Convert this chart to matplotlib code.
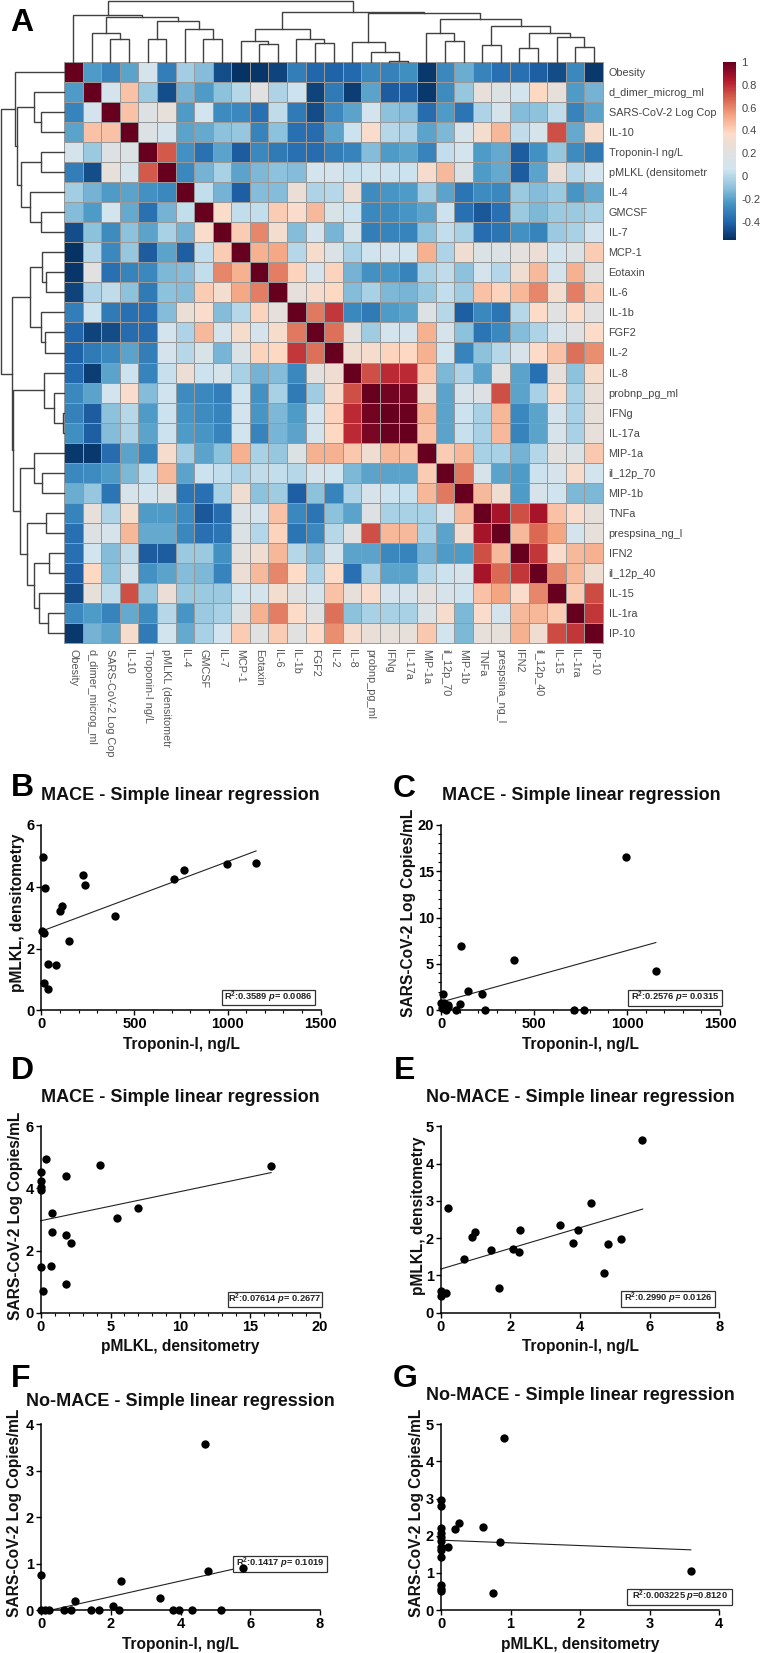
import numpy as np
import matplotlib
matplotlib.use("Agg")
import matplotlib.pyplot as plt
from matplotlib.colors import LinearSegmentedColormap
from matplotlib.patches import Rectangle
from matplotlib.ticker import MultipleLocator

plt.rcParams['font.family'] = ['Liberation Sans', 'DejaVu Sans']
plt.rcParams['mathtext.fontset'] = 'custom'
plt.rcParams['mathtext.bf'] = 'Liberation Sans:bold'
plt.rcParams['mathtext.it'] = 'Liberation Sans:italic:bold'
plt.rcParams['mathtext.rm'] = 'Liberation Sans:bold'

W, H = 760, 1653

labels = ["Obesity", "d_dimer_microg_ml", "SARS-CoV-2 Log Cop", "IL-10", "Troponin-I ng/L",
          "pMLKL (densitometr", "IL-4", "GMCSF", "IL-7", "MCP-1", "Eotaxin", "IL-6", "IL-1b",
          "FGF2", "IL-2", "IL-8", "probnp_pg_ml", "IFNg", "IL-17a", "MIP-1a", "il_12p_70",
          "MIP-1b", "TNFa", "prespsina_ng_l", "IFN2", "il_12p_40", "IL-15", "IL-1ra", "IP-10"]

# upper triangle of the correlation matrix
upper = [
    [1, -.22, -.3, -.2, .1, -.32, -.05, -.12, -.47, -.55, -.54, -.5, -.32, -.4, -.41, -.39, -.28, -.31, -.26, -.53, -.28, -.17, -.3, -.37, -.37, -.42, -.48, -.28, -.53],
    [1, .1, .45, -.07, -.47, -.15, -.22, -.1, 0, .2, -.02, .05, -.5, -.33, -.52, -.2, -.43, -.42, -.53, -.27, -.08, .25, .17, .07, .38, .25, -.22, -.15],
    [1, .45, .18, .25, -.22, .07, -.27, -.28, -.37, .02, -.33, -.48, -.28, -.2, .08, -.1, -.12, -.38, -.22, -.35, -.02, .12, -.12, -.1, .02, -.3, -.2],
    [1, .17, .1, -.2, -.18, -.1, -.08, -.3, -.1, -.37, -.38, -.2, .05, .35, 0, -.02, -.2, -.13, .12, .32, .48, .02, .12, .72, -.18, .33],
    [1, .7, -.25, -.36, -.2, -.43, -.28, -.33, -.37, -.38, -.32, -.3, -.12, -.22, -.2, -.3, .03, .08, -.22, -.18, -.43, -.25, -.08, -.27, -.33],
    [1, -.28, -.15, -.03, -.2, -.13, -.1, -.12, .08, .1, .04, .06, .05, .05, .33, .47, .17, -.22, -.18, -.43, -.2, .27, 0, .07],
    [1, .03, -.15, -.42, -.12, -.12, .27, -.02, 0, .28, -.27, -.24, -.22, -.05, -.2, -.35, -.27, -.28, -.07, -.12, -.07, -.24, -.18],
    [1, .36, .03, .03, .42, .35, .47, .13, .05, -.28, -.27, -.24, -.2, .05, -.37, -.44, -.37, -.07, -.13, -.07, -.07, -.03],
    [1, .42, .6, .32, -.12, .1, -.14, .12, -.32, -.3, -.3, -.1, .03, -.03, -.38, -.35, -.25, -.3, -.07, -.03, .08],
    [1, .5, .52, 0, .33, .15, -.03, .06, .08, .07, .5, -.02, .3, .15, .15, .23, .28, .07, .17, .42],
    [1, .62, .4, .12, .4, -.15, -.25, -.24, -.3, -.03, .02, -.1, .1, -.01, .3, .47, .1, .5, .2],
    [1, .24, .33, .38, -.12, -.03, -.13, -.14, -.08, .03, -.06, .45, .4, .48, .6, .32, .62, .42],
    [1, .63, .77, -.28, -.33, -.22, -.2, .17, 0, -.42, -.28, -.35, 0, .37, .2, .37, .2],
    [1, .65, .22, -.06, .08, .1, .5, .12, -.1, -.35, -.28, -.12, -.02, .12, .2, .37],
    [1, .3, .33, .4, .38, .5, .07, -.3, -.1, 0, .12, .37, .45, .65, .58],
    [1, .72, .8, .8, .43, -.13, -.02, -.2, .2, -.2, -.37, .25, -.1, .33],
    [1, .97, .96, .3, -.2, .12, .18, .72, -.2, -.03, .35, -.03, .26],
    [1, .99, .48, -.2, .05, -.03, .48, -.28, -.2, .1, -.03, .25],
    [1, .45, -.2, .04, -.03, .47, -.3, -.2, .12, -.03, .25],
    [1, .42, .48, -.03, -.03, -.15, -.01, .23, .15, .43],
    [1, .63, .12, -.2, -.22, .05, .12, .33, .07],
    [1, .47, .3, -.22, .12, .06, -.13, -.13],
    [1, .87, .72, .87, .45, .35, .25],
    [1, .47, .67, .53, .1, .25],
    [1, .78, .35, .47, .5],
    [1, .6, .48, .3],
    [1, .42, .73],
    [1, .78],
    [1],
]

# dendrogram merges: (height, left, right)
tree = (61,
        (47, 0,
         (45.3,
          (29.3, 1, (22.7, 2, 3)),
          (41.3, (22.7, 4, 5), (32.7, 6, (22.7, 7, 8))))),
        (50.3,
         (33, (21, 9, (17.7, 10, 11)), (22.7, 12, (18.7, 13, 14))),
         (49.3,
          (19.7, 15, (9.7, 16, (1, 17, 18))),
          (42.7,
           (29.3, 19, (21.3, 20, 21)),
           (36,
            (17, 22, 23),
            (28.7, (14.3, 24, 25), (24.7, 26, (15.3, 27, 28))))))))

cbar_ticks = [1, .8, .6, .4, .2, 0, -.2, -.4]
cbar_ticklabels = ["1", "0.8", "0.6", "0.4", "0.2", "0", "-0.2", "-0.4"]

b_x = [7, 21, 5, 16, 147, 38, 80, 16, 34, 102, 111, 224, 233, 394, 714, 768, 995, 1153]
b_y = [4.96, 3.95, 2.58, 2.51, 2.24, 1.51, 1.46, .9, .7, 3.23, 3.37, 4.39, 4.06, 3.04, 4.24, 4.54, 4.74, 4.78]
b_line = ([5, 1153], [2.57, 5.16])

c_x = [996, 1154, 109, 394, 145, 222, 13, 102, 81, 235, 715, 769, 0, 36, 13, 25, 4, 16, 40]
c_y = [16.5, 4.24, 6.93, 5.42, 2.12, 1.72, 1.76, .72, 0, 0, 0, 0, .75, .6, .2, .05, .2, .75, .4]
c_line = ([2, 1155], [.9, 7.3])

d_x = [.36, .02, .02, .02, .02, 1.81, 4.27, 16.5, 7, 5.44, .81, .79, 1.84, 2.2, .72, .02, 1.84, .14]
d_y = [4.96, 4.54, 4.24, 4.06, 3.95, 4.39, 4.77, 4.72, 3.36, 3.04, 3.22, 2.59, 2.51, 2.24, 1.51, 1.46, .91, .71]
d_line = ([0, 16.5], [2.96, 4.51])

e_x = [5.78, 4.33, .22, 3.42, 3.94, 2.27, .99, .89, 3.8, 4.79, 5.18, 1.44, 2.07, 2.24, .66, 4.7, 1.66, 0, 0, .14, .04]
e_y = [4.63, 2.94, 2.82, 2.35, 2.22, 2.22, 2.17, 2.04, 1.87, 1.83, 1.97, 1.68, 1.7, 1.62, 1.44, 1.06, .67, .58, .46, .52, .52]
e_line = ([0, 5.8], [1.17, 2.78])

f_x = [4.7, 4.8, 5.78, 0, 2.28, .98, 3.4, 2.06, 0, .11, .22, .65, .87, 1.43, 1.65, 2.23, 3.79, 3.95, 4.32, 5.17]
f_y = [3.58, .85, .91, .75, .62, .2, .26, .09, 0, 0, 0, 0, 0, 0, 0, 0, 0, 0, 0, 0]
f_line = ([.26, 5.78], [0, .93])

g_x = [.91, 0, 0, .26, .61, .2, 0, .85, 0, 0, 0, .1, 0, 0, 0, 3.59, .75, 0, 0, 0]
g_y = [4.64, 2.96, 2.81, 2.35, 2.23, 2.17, 2.22, 1.82, 2.06, 1.97, 1.87, 1.7, 1.69, 1.62, 1.44, 1.06, .47, .66, .57, .51]
g_line = ([0, 3.59], [1.88, 1.62])

n = len(labels)
matrix = np.zeros((n, n))
for i, row in enumerate(upper):
    matrix[i, i:] = row
    matrix[i:, i] = row

cmap = LinearSegmentedColormap.from_list("rb", ["#053061", "#2166ac", "#4393c3", "#92c5de", "#d1e5f0",
                                                "#e2e0de", "#fddbc7", "#f4a582", "#d6604d", "#b2182b", "#67001f"])
vmin, vmax = -.56, 1

fig = plt.figure(figsize=(W / 100, H / 100), dpi=100)


def px_axes(left, top, right, bottom):
    return fig.add_axes([left / W, 1 - bottom / H, (right - left) / W, (bottom - top) / H])


def ftext(x, y, s, **kw):
    kw.setdefault('ha', 'center')
    kw.setdefault('va', 'center')
    fig.text(x / W, 1 - y / H, s, **kw)


# heatmap
hl, ht, hr, hb = 64, 62, 603, 643
ax = px_axes(hl, ht, hr, hb)
mesh = ax.pcolormesh(matrix, cmap=cmap, vmin=vmin, vmax=vmax, edgecolors='#999999', linewidth=0.65)
ax.set_xlim(0, n)
ax.set_ylim(n, 0)
ax.set_xticks(np.arange(n) + .5)
ax.set_xticklabels(labels, rotation=-90, fontsize=7.8, color='#555555')
ax.set_yticks(np.arange(n) + .5)
ax.set_yticklabels(labels, fontsize=7.8, color='#444444')
ax.yaxis.tick_right()
ax.tick_params(length=0, pad=4)
for s in ax.spines.values():
    s.set_color('#999999')
    s.set_linewidth(0.7)


# dendrograms
def draw_tree(node, axis, vertical):
    if not isinstance(node, tuple):
        return node + .5, 0
    h, left, right = node
    p1, h1 = draw_tree(left, axis, vertical)
    p2, h2 = draw_tree(right, axis, vertical)
    pos = [p1, p1, p2, p2]
    hs = [h1, h, h, h2]
    if vertical:
        axis.plot(pos, hs, color='#404040', lw=1.0, solid_joinstyle='miter', clip_on=False)
    else:
        axis.plot(hs, pos, color='#404040', lw=1.0, solid_joinstyle='miter', clip_on=False)
    return (p1 + p2) / 2, h


dtop = px_axes(hl, 0, hr, ht)
draw_tree(tree, dtop, True)
dtop.set_xlim(0, n)
dtop.set_ylim(0, ht)
dtop.axis('off')

dleft = px_axes(0, ht, hl, hb)
draw_tree(tree, dleft, False)
dleft.set_xlim(hl - 2, 0)
dleft.set_ylim(n, 0)
dleft.axis('off')

# colour bar
cax = px_axes(723, 62, 736, 240)
cb = fig.colorbar(mesh, cax=cax)
cb.set_ticks(cbar_ticks)
cb.set_ticklabels(cbar_ticklabels)
cb.ax.tick_params(length=0, labelsize=8, labelcolor='#444444', pad=4)
cb.outline.set_visible(False)


def panel(box, xlim, ylim, xmajor, ymajor, xminor, yminor, x, y, line, note, note_box):
    a = px_axes(*box)
    a.set_xlim(*xlim)
    a.set_ylim(*ylim)
    a.spines['top'].set_visible(False)
    a.spines['right'].set_visible(False)
    a.spines['left'].set_linewidth(1.1)
    a.spines['bottom'].set_linewidth(1.1)
    a.xaxis.set_major_locator(MultipleLocator(xmajor))
    a.yaxis.set_major_locator(MultipleLocator(ymajor))
    if xminor:
        a.xaxis.set_minor_locator(MultipleLocator(xminor))
    if yminor:
        a.yaxis.set_minor_locator(MultipleLocator(yminor))
    a.tick_params(which='major', length=3.5, width=1.0, labelsize=10.5, pad=1.5)
    a.tick_params(which='minor', length=2, width=0.8)
    for t in a.get_xticklabels() + a.get_yticklabels():
        t.set_fontweight('bold')
    a.plot(line[0], line[1], color='#222222', lw=0.8, clip_on=False, zorder=2)
    # stats box is given in pixels of the figure
    l, t, r, b = note_box
    bw, bh = box[2] - box[0], box[3] - box[1]
    a.add_patch(Rectangle(((l - box[0]) / bw, (box[3] - b) / bh), (r - l) / bw, (b - t) / bh,
                          transform=a.transAxes, fc='white', ec='#333333', lw=0.9, clip_on=False, zorder=3))
    a.scatter(x, y, s=36, color='black', clip_on=False, zorder=4, linewidths=0)
    a.text(((l + r) / 2 - box[0]) / bw, (box[3] - (t + b) / 2) / bh, note, transform=a.transAxes,
           ha='center', va='center', fontsize=6.7, fontweight='bold', color='#222222', zorder=5)
    return a


panel((41.3, 825, 320.7, 1010.3), (0, 1500), (0, 6), 500, 2, 100, None, b_x, b_y, b_line,
      r"$\mathbf{R^2}$:0.3589 $\mathit{p}$= 0.0086", (221.7, 989.5, 315.3, 1005))
panel((441, 824.7, 720, 1010.3), (0, 1500), (0, 20), 500, 5, 100, 1, c_x, c_y, c_line,
      r"$\mathbf{R^2}$:0.2576 $\mathit{p}$= 0.0315", (627.7, 989.5, 722.3, 1005.7))
panel((40.7, 1126.3, 320, 1312.7), (0, 20), (0, 6), 5, 2, 1, None, d_x, d_y, d_line,
      r"$\mathbf{R^2}$:0.07614 $\mathit{p}$= 0.2677", (227.7, 1291.7, 322.3, 1307.3))
panel((440.7, 1126.3, 719.3, 1312.7), (0, 8), (0, 5), 2, 1, None, None, e_x, e_y, e_line,
      r"$\mathbf{R^2}$:0.2990 $\mathit{p}$= 0.0126", (620.7, 1290.7, 715, 1306.7))
panel((41, 1424.3, 320, 1610.3), (0, 8), (0, 4), 2, 1, None, None, f_x, f_y, f_line,
      r"$\mathbf{R^2}$:0.1417 $\mathit{p}$= 0.1019", (232.7, 1556, 327, 1571.7))
panel((441, 1424.3, 719.3, 1610), (0, 4), (0, 5), 1, 1, None, None, g_x, g_y, g_line,
      r"$\mathbf{R^2}$:0.003225 $\mathit{p}$=0.8120", (627.3, 1588.7, 732.3, 1605))

# titles, axis names and panel letters
title_kw = dict(fontsize=13, fontweight='bold', color='#111111')
ftext(180.5, 796, "MACE - Simple linear regression", **title_kw)
ftext(581, 796, "MACE - Simple linear regression", **title_kw)
ftext(180.5, 1098, "MACE - Simple linear regression", **title_kw)
ftext(580.5, 1098, "No-MACE - Simple linear regression", **title_kw)
ftext(180, 1401, "No-MACE - Simple linear regression", **title_kw)
ftext(580.5, 1396, "No-MACE - Simple linear regression", **title_kw)

lab_kw = dict(fontsize=11.2, fontweight='bold', color='#111111')
ftext(181, 1044, "Troponin-I, ng/L", **lab_kw)
ftext(580, 1044, "Troponin-I, ng/L", **lab_kw)
ftext(180, 1347, "pMLKL, densitometry", **lab_kw)
ftext(580, 1347, "Troponin-I, ng/L", **lab_kw)
ftext(180, 1644, "Troponin-I, ng/L", **lab_kw)
ftext(580, 1644, "pMLKL, densitometry", **lab_kw)

ftext(18, 913, "pMLKL, densitometry", rotation=90, **lab_kw)
ftext(408, 913, "SARS-CoV-2 Log Copies/mL", rotation=90, **lab_kw)
ftext(16, 1216, "SARS-CoV-2 Log Copies/mL", rotation=90, **lab_kw)
ftext(418, 1216, "pMLKL, densitometry", rotation=90, **lab_kw)
ftext(15, 1513, "SARS-CoV-2 Log Copies/mL", rotation=90, **lab_kw)
ftext(416, 1513, "SARS-CoV-2 Log Copies/mL", rotation=90, **lab_kw)

letter_kw = dict(fontsize=23, fontweight='bold', color='black', ha='left')
ftext(10, 23, "A", **letter_kw)
ftext(11, 788, "B", **letter_kw)
ftext(393, 789, "C", **letter_kw)
ftext(11, 1071, "D", **letter_kw)
ftext(394, 1071, "E", **letter_kw)
ftext(11, 1379, "F", **letter_kw)
ftext(393, 1379, "G", **letter_kw)

fig.savefig("out.png", dpi=100)
